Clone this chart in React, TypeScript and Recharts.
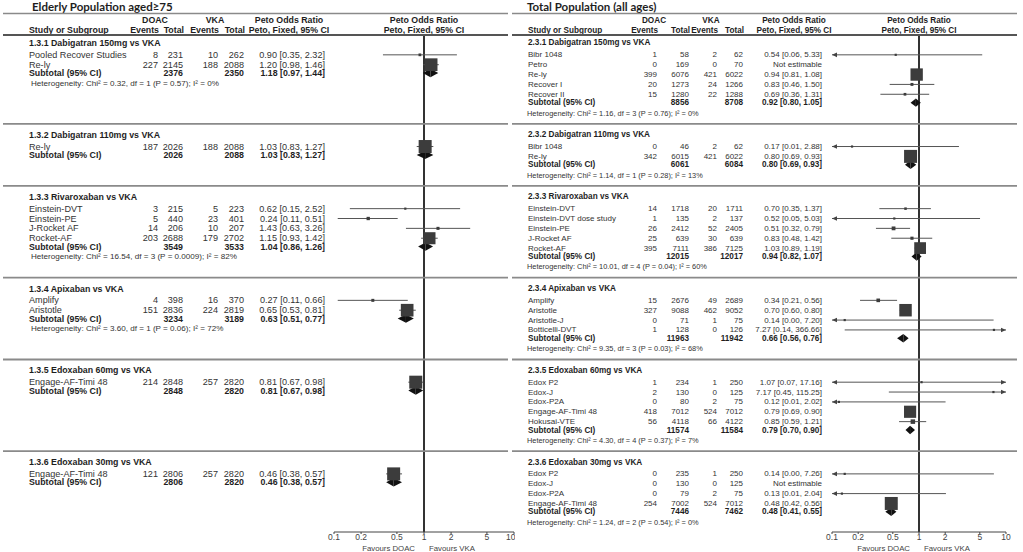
import React from 'react'
import { ScatterChart, Scatter, XAxis, YAxis, ReferenceLine } from 'recharts'

// ---------- Elderly population aged >= 75 ----------
const ELD_GROUPS = [
  '1.3.1 Dabigatran 150mg vs VKA',
  '1.3.2 Dabigatran 110mg vs VKA',
  '1.3.3 Rivaroxaban vs VKA',
  '1.3.4 Apixaban vs VKA',
  '1.3.5 Edoxaban 60mg vs VKA',
  '1.3.6 Edoxaban 30mg vs VKA',
]
const ELD_STUDIES = [
  ['Pooled Recover Studies', 'Re-ly'],
  ['Re-ly'],
  ['Einstein-DVT', 'Einstein-PE', 'J-Rocket AF', 'Rocket-AF'],
  ['Amplify', 'Aristotle'],
  ['Engage-AF-Timi 48'],
  ['Engage-AF-Timi 48'],
]
const ELD_DOAC_EVENTS = [[8, 227], [187], [3, 5, 14, 203], [4, 151], [214], [121]]
const ELD_DOAC_TOTAL = [[231, 2145], [2026], [215, 440, 206, 2688], [398, 2836], [2848], [2806]]
const ELD_VKA_EVENTS = [[10, 188], [188], [5, 23, 10, 179], [16, 224], [257], [257]]
const ELD_VKA_TOTAL = [[262, 2088], [2088], [223, 401, 207, 2702], [370, 2819], [2820], [2820]]
const ELD_OR = [[0.9, 1.2], [1.03], [0.62, 0.24, 1.43, 1.15], [0.27, 0.65], [0.81], [0.46]]
const ELD_LO = [[0.35, 0.98], [0.83], [0.15, 0.11, 0.63, 0.93], [0.11, 0.53], [0.67], [0.38]]
const ELD_HI = [[2.32, 1.46], [1.27], [2.52, 0.51, 3.26, 1.42], [0.66, 0.81], [0.98], [0.57]]
const ELD_SUB_OR = [1.18, 1.03, 1.04, 0.63, 0.81, 0.46]
const ELD_SUB_LO = [0.97, 0.83, 0.86, 0.51, 0.67, 0.38]
const ELD_SUB_HI = [1.44, 1.27, 1.26, 0.77, 0.98, 0.57]
const ELD_HET = [
  'Heterogeneity: Chi² = 0.32, df = 1 (P = 0.57); I² = 0%',
  null,
  'Heterogeneity: Chi² = 16.54, df = 3 (P = 0.0009); I² = 82%',
  'Heterogeneity: Chi² = 3.60, df = 1 (P = 0.06); I² = 72%',
  null,
  null,
]

// ---------- Total population (all ages) ----------
const ALL_GROUPS = [
  '2.3.1 Dabigatran 150mg vs VKA',
  '2.3.2 Dabigatran 110mg vs VKA',
  '2.3.3 Rivaroxaban vs VKA',
  '2.3.4 Apixaban vs VKA',
  '2.3.5 Edoxaban 60mg vs VKA',
  '2.3.6 Edoxaban 30mg vs VKA',
]
const ALL_STUDIES = [
  ['Bibr 1048', 'Petro', 'Re-ly', 'Recover I', 'Recover II'],
  ['Bibr 1048', 'Re-ly'],
  ['Einstein-DVT', 'Einstein-DVT dose study', 'Einstein-PE', 'J-Rocket AF', 'Rocket-AF'],
  ['Amplify', 'Aristotle', 'Aristotle-J', 'Botticelli-DVT'],
  ['Edox P2', 'Edox-J', 'Edox-P2A', 'Engage-AF-Timi 48', 'Hokusai-VTE'],
  ['Edox P2', 'Edox-J', 'Edox-P2A', 'Engage-AF-Timi 48'],
]
const ALL_DOAC_EVENTS = [[1, 0, 399, 20, 15], [0, 342], [14, 1, 26, 25, 395], [15, 327, 0, 1], [1, 2, 0, 418, 56], [0, 0, 0, 254]]
const ALL_DOAC_TOTAL = [[58, 169, 6076, 1273, 1280], [46, 6015], [1718, 135, 2412, 639, 7111], [2676, 9088, 71, 128], [234, 130, 80, 7012, 4118], [235, 130, 79, 7002]]
const ALL_VKA_EVENTS = [[2, 0, 421, 24, 22], [2, 421], [20, 2, 52, 30, 386], [49, 462, 1, 0], [1, 0, 2, 524, 66], [1, 0, 2, 524]]
const ALL_VKA_TOTAL = [[62, 70, 6022, 1266, 1288], [62, 6022], [1711, 137, 2405, 639, 7125], [2689, 9052, 75, 126], [250, 125, 75, 7012, 4122], [250, 125, 75, 7012]]
const ALL_OR = [[0.54, null, 0.94, 0.83, 0.69], [0.17, 0.8], [0.7, 0.52, 0.51, 0.83, 1.03], [0.34, 0.7, 0.14, 7.27], [1.07, 7.17, 0.12, 0.79, 0.85], [0.14, null, 0.13, 0.48]]
const ALL_LO = [[0.06, null, 0.81, 0.46, 0.36], [0.01, 0.69], [0.35, 0.05, 0.32, 0.48, 0.89], [0.21, 0.6, 0.0, 0.14], [0.07, 0.45, 0.01, 0.69, 0.59], [0.0, null, 0.01, 0.42]]
const ALL_HI = [[5.33, null, 1.08, 1.5, 1.31], [2.88, 0.93], [1.37, 5.03, 0.79, 1.42, 1.19], [0.56, 0.8, 7.2, 366.66], [17.16, 115.25, 2.02, 0.9, 1.21], [7.26, null, 2.04, 0.56]]
const ALL_SUB_OR = [0.92, 0.8, 0.94, 0.66, 0.79, 0.48]
const ALL_SUB_LO = [0.8, 0.69, 0.82, 0.56, 0.7, 0.41]
const ALL_SUB_HI = [1.05, 0.93, 1.07, 0.76, 0.9, 0.55]
const ALL_HET = [
  'Heterogeneity: Chi² = 1.16, df = 3 (P = 0.76); I² = 0%',
  'Heterogeneity: Chi² = 1.14, df = 1 (P = 0.28); I² = 13%',
  'Heterogeneity: Chi² = 10.01, df = 4 (P = 0.04); I² = 60%',
  'Heterogeneity: Chi² = 9.35, df = 3 (P = 0.03); I² = 68%',
  'Heterogeneity: Chi² = 4.30, df = 4 (P = 0.37); I² = 7%',
  'Heterogeneity: Chi² = 1.24, df = 2 (P = 0.54); I² = 0%',
]

const X_TICKS = [0.1, 0.2, 0.5, 1, 2, 5, 10]

// layout (row units on the y axis)
const FONT = '"Liberation Sans", Arial, sans-serif'
const U_MIN = -4.361
const U_MAX = 49.594
const HEAD_U = { title: -3.75, rule1: -2.99, cols1: -2.33, cols2: -1.27, rule2: -0.81 }
const FIRST_STUDY = 1.2
const SUB_GAP = 0.85
const HET_GAP = 1.05
const SEP_GAP = 1.1

function groupFrames(counts: number[]) {
  const heads: number[] = []
  const seps: number[] = []
  let u = 0
  counts.forEach((n, i) => {
    heads.push(u)
    const het = u + FIRST_STUDY + (n - 1) + SUB_GAP + HET_GAP
    if (i < counts.length - 1) {
      seps.push(het + SEP_GAP)
      u = het + 2 * SEP_GAP
    }
  })
  return { heads, seps }
}

const FRAMES = groupFrames(ALL_STUDIES.map((s) => s.length))

const fmt = (v: number) => v.toFixed(2)
const ciText = (o: number | null, l: number | null, h: number | null) =>
  o == null ? 'Not estimable' : `${fmt(o)} [${fmt(l as number)}, ${fmt(h as number)}]`

function buildPanel(src: any) {
  const rows: any[] = [
    { u: HEAD_U.title, kind: 'title' },
    { u: HEAD_U.rule1, kind: 'rule1' },
    { u: HEAD_U.cols1, kind: 'cols1' },
    { u: HEAD_U.cols2, kind: 'cols2' },
    { u: HEAD_U.rule2, kind: 'rule2' },
  ]
  const boxes: any[] = []
  const cis: any[] = []
  const dias: any[] = []
  src.groups.forEach((g: string, gi: number) => {
    const hu = FRAMES.heads[gi]
    rows.push({ u: hu, kind: 'head', text: g })
    // Peto variance -> box size
    const vars = src.studies[gi].map((_: string, si: number) => {
      const a = src.dEv[gi][si], na = src.dN[gi][si], c = src.vEv[gi][si], nc = src.vN[gi][si]
      const n = na + nc, e = a + c
      return src.or[gi][si] == null ? 0 : (e * (n - e) * na * nc) / (n * n * (n - 1))
    })
    const vsum = vars.reduce((s: number, v: number) => s + v, 0)
    let last = hu
    src.studies[gi].forEach((s: string, si: number) => {
      const u = hu + FIRST_STUDY + si
      last = u
      const o = src.or[gi][si], l = src.lo[gi][si], h = src.hi[gi][si]
      rows.push({
        u, kind: 'study', text: s,
        cells: [src.dEv[gi][si], src.dN[gi][si], src.vEv[gi][si], src.vN[gi][si]],
        ci: ciText(o, l, h),
      })
      if (o != null) {
        const w = vars[si] / vsum
        boxes.push({ x: o, y: u, s: Math.max(2.2, 13 * Math.sqrt(w)) })
        cis.push({ y: u, lo: Math.max(l, 0.1), hi: Math.min(h, 10), arrowL: l < 0.1, arrowR: h > 10 })
      }
    })
    const su = last + SUB_GAP
    const dSum = src.dN[gi].reduce((s: number, v: number) => s + v, 0)
    const vSum = src.vN[gi].reduce((s: number, v: number) => s + v, 0)
    rows.push({ u: su, kind: 'sub', cells: [dSum, vSum], ci: ciText(src.subOr[gi], src.subLo[gi], src.subHi[gi]) })
    dias.push({ y: su, o: src.subOr[gi], lo: src.subLo[gi], hi: src.subHi[gi] })
    if (src.het[gi]) rows.push({ u: su + HET_GAP, kind: 'het', text: src.het[gi] })
    if (gi < FRAMES.seps.length) rows.push({ u: FRAMES.seps[gi], kind: 'sep' })
  })
  rows.sort((a, b) => a.u - b.u)
  return { rows, boxes, cis, dias }
}

const ELD = buildPanel({
  groups: ELD_GROUPS, studies: ELD_STUDIES, dEv: ELD_DOAC_EVENTS, dN: ELD_DOAC_TOTAL,
  vEv: ELD_VKA_EVENTS, vN: ELD_VKA_TOTAL, or: ELD_OR, lo: ELD_LO, hi: ELD_HI,
  subOr: ELD_SUB_OR, subLo: ELD_SUB_LO, subHi: ELD_SUB_HI, het: ELD_HET,
})
const ALL = buildPanel({
  groups: ALL_GROUPS, studies: ALL_STUDIES, dEv: ALL_DOAC_EVENTS, dN: ALL_DOAC_TOTAL,
  vEv: ALL_VKA_EVENTS, vN: ALL_VKA_TOTAL, or: ALL_OR, lo: ALL_LO, hi: ALL_HI,
  subOr: ALL_SUB_OR, subLo: ALL_SUB_LO, subHi: ALL_SUB_HI, het: ALL_HET,
})

const ELD_CFG = {
  left: 0, width: 515, axisW: 334, marginR: 1, title: 'Elderly Population aged≥75',
  titleX: 32, nameX: 29, hetX: 31, cols: [158, 183, 218, 244], orX: 325, orHeadX: 289,
  doacX: 155, vkaX: 215, plotX: 424, ruleX1: 3, ruleX2: 508,
  fs: 9.1, fb: 8.8, fh: 8.1,
}
const ALL_CFG = {
  left: 512, width: 511, axisW: 320, marginR: 17, title: 'Total Population (all ages)',
  titleX: 527, nameX: 528, hetX: 527, cols: [657, 689, 717, 743], orX: 822, orHeadX: 794,
  doacX: 654, vkaX: 711, plotX: 919, ruleX1: 511, ruleX2: 1017,
  fs: 8, fb: 8.2, fh: 7.4,
}

function RowTick(props: any) {
  const { y, payload, cfg, rows } = props
  const row = rows.find((r: any) => Math.abs(r.u - payload.value) < 1e-6)
  if (!row) return <g />
  const X = (v: number) => v - cfg.left
  const TXT = { fontSize: cfg.fs, fill: '#333', dominantBaseline: 'central' as const }
  const BOLD = { fontSize: cfg.fb, fill: '#1e1e1e', fontWeight: 700, dominantBaseline: 'central' as const }
  switch (row.kind) {
    case 'title':
      return (
        <text x={X(cfg.titleX)} y={y} dominantBaseline="central" fontFamily="Lato, sans-serif" fontWeight={700} fontSize={11.5} fill="#1e1e1e">
          {cfg.title}
        </text>
      )
    case 'rule1':
      return <line x1={X(cfg.ruleX1)} x2={X(cfg.ruleX2)} y1={y} y2={y} stroke="#8a8a8a" strokeWidth={1.4} />
    case 'rule2':
      return <line x1={X(cfg.ruleX1)} x2={X(cfg.ruleX2)} y1={y} y2={y} stroke="#555" strokeWidth={1.8} />
    case 'sep':
      return <line x1={X(cfg.ruleX1)} x2={X(cfg.ruleX2)} y1={y} y2={y} stroke="#8a8a8a" strokeWidth={1.8} />
    case 'cols1':
      return (
        <g>
          <text {...BOLD} x={X(cfg.doacX)} y={y} textAnchor="middle">DOAC</text>
          <text {...BOLD} x={X(cfg.vkaX)} y={y} textAnchor="middle">VKA</text>
          <text {...BOLD} x={X(cfg.orHeadX)} y={y} textAnchor="middle">Peto Odds Ratio</text>
          <text {...BOLD} x={X(cfg.plotX)} y={y} textAnchor="middle">Peto Odds Ratio</text>
        </g>
      )
    case 'cols2':
      return (
        <g>
          <text {...BOLD} x={X(cfg.nameX)} y={y}>Study or Subgroup</text>
          <text {...BOLD} x={X(cfg.cols[0] + 1)} y={y} textAnchor="end">Events</text>
          <text {...BOLD} x={X(cfg.cols[1] + 1)} y={y} textAnchor="end">Total</text>
          <text {...BOLD} x={X(cfg.cols[2] + 1)} y={y} textAnchor="end">Events</text>
          <text {...BOLD} x={X(cfg.cols[3] + 1)} y={y} textAnchor="end">Total</text>
          <text {...BOLD} x={X(cfg.orHeadX)} y={y} textAnchor="middle">Peto, Fixed, 95% CI</text>
          <text {...BOLD} x={X(cfg.plotX)} y={y} textAnchor="middle">Peto, Fixed, 95% CI</text>
        </g>
      )
    case 'head':
      return <text {...BOLD} x={X(cfg.nameX)} y={y}>{row.text}</text>
    case 'study':
      return (
        <g>
          <text {...TXT} x={X(cfg.nameX)} y={y}>{row.text}</text>
          {row.cells.map((c: number, i: number) => (
            <text key={i} {...TXT} x={X(cfg.cols[i])} y={y} textAnchor="end">{c}</text>
          ))}
          <text {...TXT} x={X(cfg.orX)} y={y} textAnchor="end">{row.ci}</text>
        </g>
      )
    case 'sub':
      return (
        <g>
          <text {...BOLD} x={X(cfg.nameX)} y={y}>Subtotal (95% CI)</text>
          <text {...BOLD} x={X(cfg.cols[1])} y={y} textAnchor="end">{row.cells[0]}</text>
          <text {...BOLD} x={X(cfg.cols[3])} y={y} textAnchor="end">{row.cells[1]}</text>
          <text {...BOLD} x={X(cfg.orX)} y={y} textAnchor="end">{row.ci}</text>
        </g>
      )
    case 'het':
      return <text {...TXT} fontSize={cfg.fh} x={X(cfg.hetX)} y={y}>{row.text}</text>
    default:
      return <g />
  }
}

function FavoursLabel(props: any) {
  const vb = props.viewBox || { x: 0, y: 0, width: 0 }
  const cx = vb.x + vb.width / 2
  const y = vb.y + 16
  return (
    <g>
      <text x={cx - 9} y={y} textAnchor="end" dominantBaseline="central" fontSize={7.8} fill="#444">Favours DOAC</text>
      <text x={cx + 5} y={y} textAnchor="start" dominantBaseline="central" fontSize={7.8} fill="#444">Favours VKA</text>
    </g>
  )
}

const ciShape = (arrowL: boolean, arrowR: boolean) => (p: any) => {
  const { x1, y1, x2 } = p
  return (
    <g>
      <line x1={x1} y1={y1} x2={x2} y2={y1} stroke="#555" strokeWidth={1} />
      {arrowL && <polygon points={`${x1},${y1} ${x1 + 5},${y1 - 2.3} ${x1 + 5},${y1 + 2.3}`} fill="#444" />}
      {arrowR && <polygon points={`${x2},${y1} ${x2 - 5},${y1 - 2.3} ${x2 - 5},${y1 + 2.3}`} fill="#444" />}
    </g>
  )
}

const halfDiamond = (side: 'L' | 'R') => (p: any) => {
  const { x1, y1, x2 } = p
  const h = 4.2
  const pts =
    side === 'L'
      ? `${x1},${y1} ${x2},${y1 - h} ${x2},${y1 + h}`
      : `${x1},${y1 - h} ${x2},${y1} ${x1},${y1 + h}`
  return <polygon points={pts} fill="#111" />
}

const BoxShape = (p: any) => {
  const s = p.payload?.s ?? p.s ?? 3
  return <rect x={p.cx - s / 2} y={p.cy - s / 2} width={s} height={s} fill="#3c3c3c" />
}

function ForestPanel({ cfg, data }: { cfg: any; data: any }) {
  return (
    <div style={{ position: 'absolute', left: cfg.left, top: 0, fontFamily: FONT }}>
      <ScatterChart width={cfg.width} height={552} margin={{ top: 0, right: cfg.marginR, bottom: 0, left: 0 }}>
        <XAxis
          type="number" dataKey="x" scale="log" domain={[0.1, 10]} ticks={X_TICKS} allowDataOverflow
          height={20} tickSize={2} tickMargin={0} stroke="#444" tick={{ fontSize: 8.5, fill: '#444' }}
          label={<FavoursLabel />}
        />
        <YAxis
          type="number" dataKey="y" domain={[U_MIN, U_MAX]} reversed allowDataOverflow
          ticks={data.rows.map((r: any) => r.u)} interval={0} width={cfg.axisW}
          axisLine={false} tickLine={false}
          tick={(p: any) => <RowTick {...p} cfg={cfg} rows={data.rows} />}
        />
        <ReferenceLine
          segment={[{ x: 1, y: HEAD_U.rule2 }, { x: 1, y: U_MAX }]}
          stroke="#333" strokeWidth={2} ifOverflow="visible"
        />
        {data.cis.map((c: any, i: number) => (
          <ReferenceLine
            key={`ci${i}`} ifOverflow="visible"
            segment={[{ x: c.lo, y: c.y }, { x: c.hi, y: c.y }]}
            shape={ciShape(c.arrowL, c.arrowR)}
          />
        ))}
        {data.dias.map((d: any, i: number) => (
          <ReferenceLine key={`dl${i}`} ifOverflow="visible" segment={[{ x: d.lo, y: d.y }, { x: d.o, y: d.y }]} shape={halfDiamond('L')} />
        ))}
        {data.dias.map((d: any, i: number) => (
          <ReferenceLine key={`dr${i}`} ifOverflow="visible" segment={[{ x: d.o, y: d.y }, { x: d.hi, y: d.y }]} shape={halfDiamond('R')} />
        ))}
        <Scatter data={data.boxes} isAnimationActive={false} shape={BoxShape} />
      </ScatterChart>
    </div>
  )
}

export default function App() {
  return (
    <div style={{ position: 'absolute', left: 0, top: 0, width: 1023, height: 552, background: '#fff' }}>
      <ForestPanel cfg={ELD_CFG} data={ELD} />
      <ForestPanel cfg={ALL_CFG} data={ALL} />
    </div>
  )
}
